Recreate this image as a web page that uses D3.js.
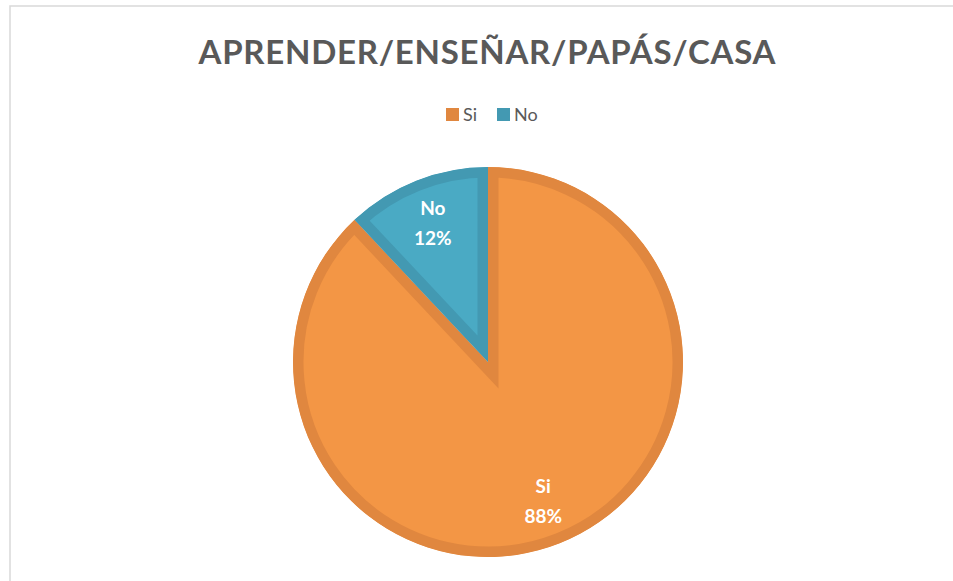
<!DOCTYPE html>
<html>
<head>
<meta charset="utf-8">
<script src="https://cdn.jsdelivr.net/npm/d3@7"></script>
<style>
    body { margin: 0; background: #ffffff; }
    svg { display: block; }
</style>
</head>
<body>
<script>
// 数据
const title = 'APRENDER/ENSEÑAR/PAPÁS/CASA';
const categories = ['Si', 'No'];
const values = [88, 12];
const fillColors = ['#f39645', '#4aaac4'];
const borderColors = ['#e0873f', '#4399b2'];

const width = 953, height = 581;
const cx = 488, cy = 362, radius = 195;
const fontFamily = 'Lato, "Open Sans", sans-serif';

const svg = d3.select('body')
    .append('svg')
    .attr('width', width)
    .attr('height', height);

// 图表外框
svg.append('rect')
    .attr('x', 10)
    .attr('y', 6)
    .attr('width', width)
    .attr('height', height)
    .attr('fill', 'none')
    .attr('stroke', '#d9d9d9')
    .attr('stroke-width', 1.5);

// 标题
svg.append('text')
    .attr('x', 487)
    .attr('y', 64)
    .attr('text-anchor', 'middle')
    .attr('textLength', 577)
    .attr('lengthAdjust', 'spacing')
    .style('font-family', fontFamily)
    .style('font-weight', 'bold')
    .style('font-size', '33px')
    .style('fill', '#595959')
    .text(title);

// 图例
const legendX = d3.scaleOrdinal().domain(categories).range([446, 497]);
const legend = svg.append('g')
    .selectAll('g')
    .data(categories)
    .enter()
    .append('g')
    .attr('transform', d => `translate(${legendX(d)},108)`);
legend.append('rect')
    .attr('width', 13)
    .attr('height', 13)
    .attr('fill', (d, i) => borderColors[i]);
legend.append('text')
    .attr('x', 17)
    .attr('y', 13)
    .style('font-family', fontFamily)
    .style('font-size', '18px')
    .style('fill', '#595959')
    .text(d => d);

// 饼图
const pie = d3.pie().sort(null).value(d => d.value);
const arcs = pie(categories.map((c, i) => ({name: c, value: values[i], i})));
const arc = d3.arc().innerRadius(0).outerRadius(radius);
const labelArc = d3.arc().innerRadius(150).outerRadius(150);

const pieG = svg.append('g').attr('transform', `translate(${cx},${cy})`);
const defs = svg.append('defs');

defs.selectAll('clipPath')
    .data(arcs)
    .enter()
    .append('clipPath')
    .attr('id', d => `clip-${d.data.i}`)
    .append('path')
    .attr('d', arc);

// 内描边：宽描边裁剪到扇区内部
pieG.selectAll('path.slice')
    .data(arcs)
    .enter()
    .append('path')
    .attr('class', 'slice')
    .attr('d', arc)
    .attr('clip-path', d => `url(#clip-${d.data.i})`)
    .attr('fill', d => fillColors[d.data.i])
    .attr('stroke', d => borderColors[d.data.i])
    .attr('stroke-width', 21)
    .attr('stroke-linejoin', 'miter');

// 数据标签
const labels = pieG.selectAll('text.label')
    .data(arcs)
    .enter()
    .append('text')
    .attr('class', 'label')
    .attr('transform', d => `translate(${labelArc.centroid(d)})`)
    .attr('text-anchor', 'middle')
    .style('font-family', fontFamily)
    .style('font-weight', 'bold')
    .style('font-size', '19px')
    .style('fill', '#ffffff');
labels.append('tspan')
    .attr('x', 0)
    .attr('y', -8)
    .text(d => d.data.name);
labels.append('tspan')
    .attr('x', 0)
    .attr('y', 22)
    .text(d => `${d.data.value}%`);
</script>
</body>
</html>
